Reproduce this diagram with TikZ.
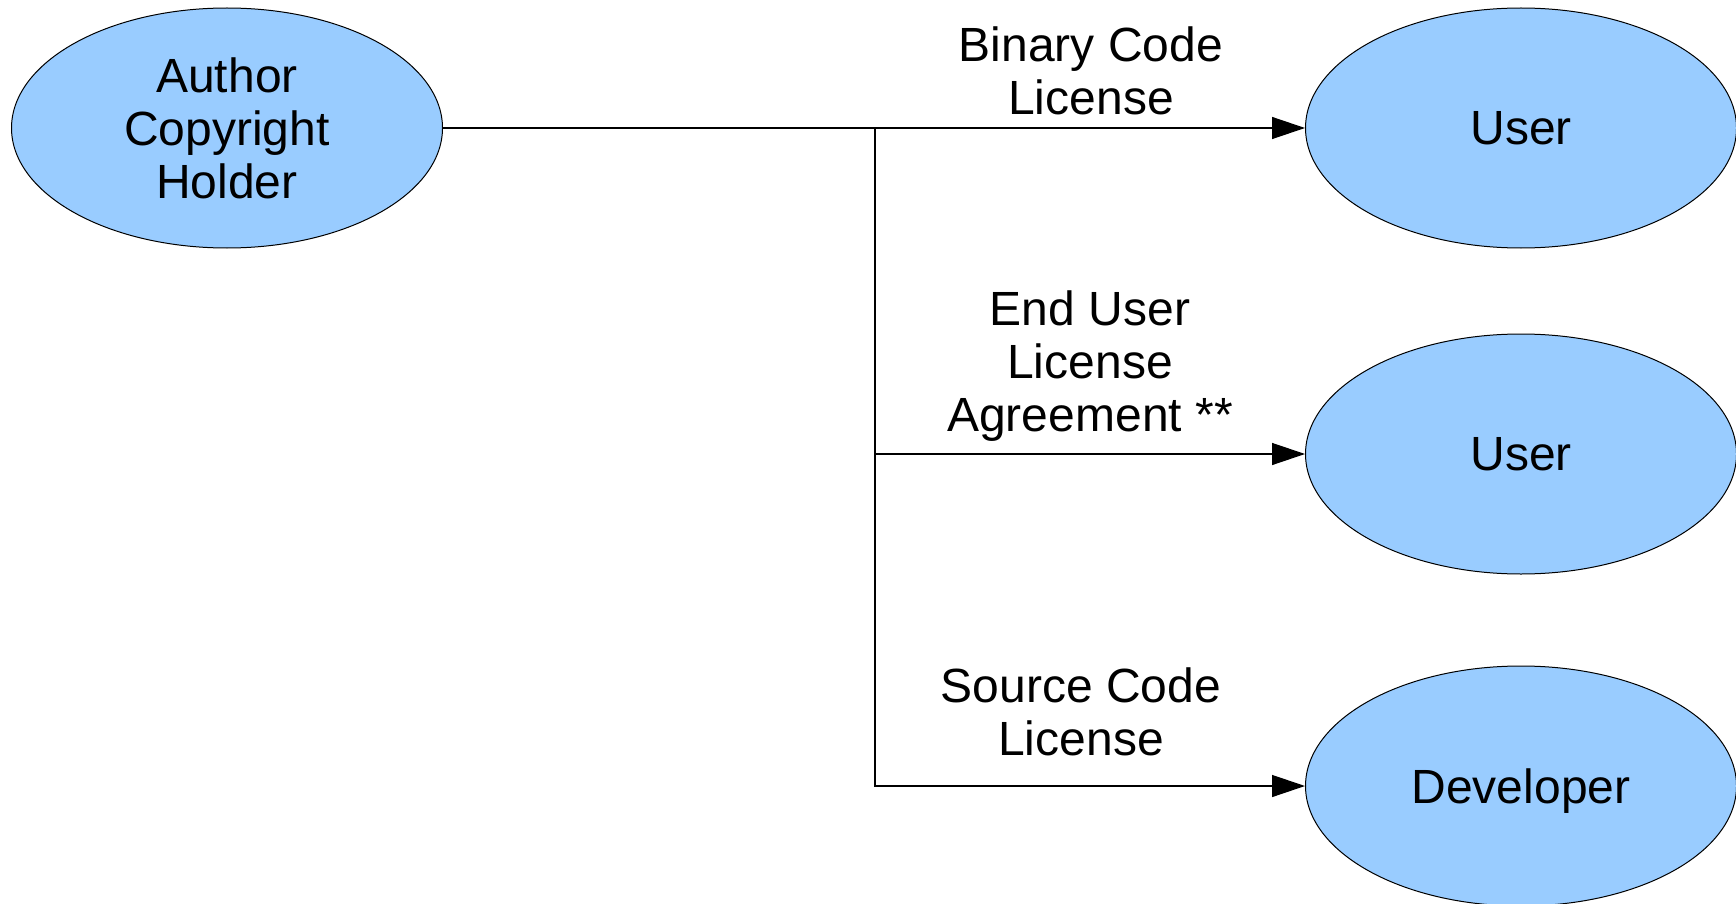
\documentclass[tikz,border=0pt]{standalone}
\usepackage{fontspec}
\setmainfont{Liberation Sans}
\usetikzlibrary{shapes.geometric,arrows.meta}
\definecolor{nodeblue}{HTML}{99CCFF}
\tikzset{
  party/.style={ellipse, draw=black, line width=1pt, fill=nodeblue,
    minimum width=431pt, minimum height=240pt, inner sep=0pt,
    align=center, text depth=0pt, font=\fontsize{48}{53}\selectfont},
  lbl/.style={align=center, inner sep=0pt, font=\fontsize{48}{53}\selectfont},
  conn/.style={draw=black, line width=1.3pt},
  arr/.style={conn, -{Triangle[length=33pt,width=22pt]}}
}
\begin{document}
\begin{tikzpicture}[x=1pt,y=-1pt]
\useasboundingbox (0,0) rectangle (1736,904);
\node[party] (author) at (227,128) {Author\\Copyright\\Holder};
\node[party] (user1) at (1521,128) {User};
\node[party] (user2) at (1521,454) {User};
\node[party] (dev) at (1521,786) {Developer};
\coordinate (j) at (875,128);
\draw[arr] (author.east) -- (user1.west);
\draw[arr] (j) |- (user2.west);
\draw[arr] (j) |- (dev.west);
\node[lbl] (l1) at (1091,71) {Binary Code\\License};
\node[lbl] (l2) at (1090,366) {End User\\License\\Agreement **};
\node[lbl] (l3) at (1081,712) {Source Code\\License};
\end{tikzpicture}
\end{document}
